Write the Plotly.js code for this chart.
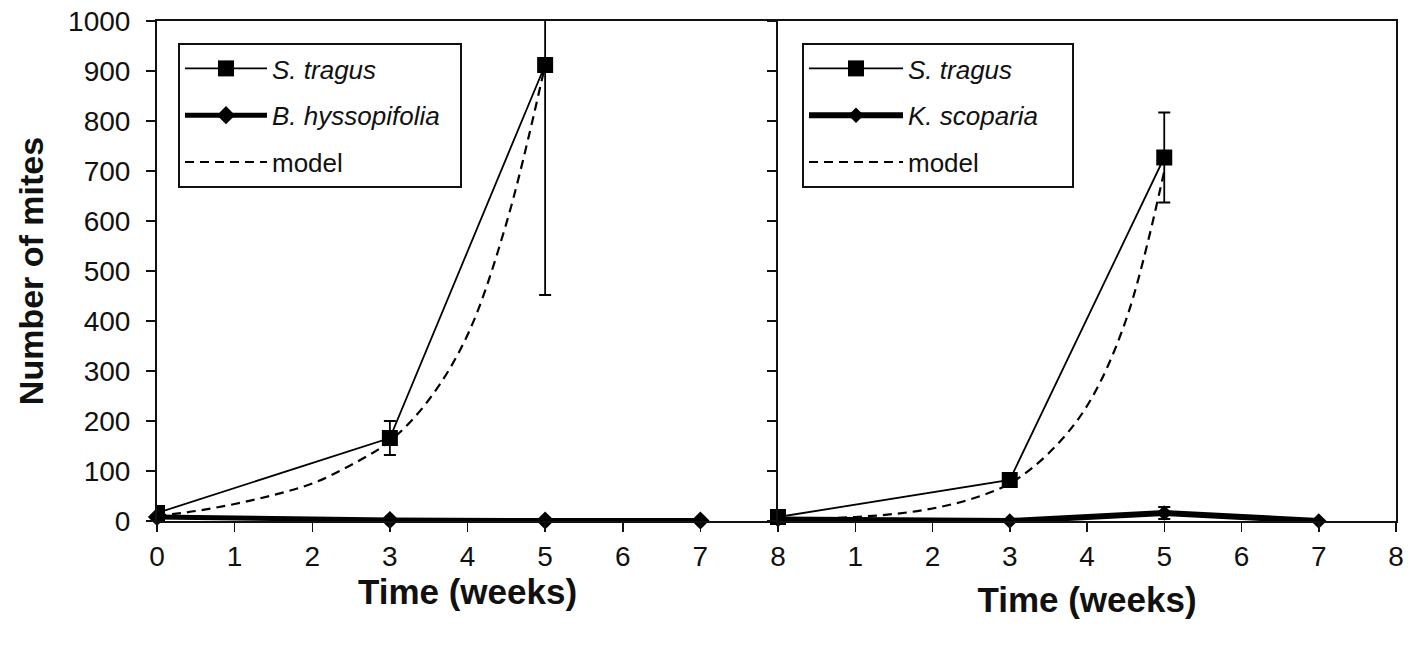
<!DOCTYPE html>
<html>
<head>
<meta charset="utf-8">
<script src="https://cdn.plot.ly/plotly-3.0.1.min.js"></script>
<style>html,body{margin:0;padding:0;background:#fff;}#chart{width:1420px;height:647px;}</style>
</head>
<body>
<div id="chart"></div>
<script>
// ---- Data ----
const weeksObs = [0, 3, 5];
const weeksAll = [0, 3, 5, 7];
const modelWeeks = [0, 0.5, 1, 1.5, 2, 2.5, 3, 3.5, 4, 4.5, 5];

// Left panel
const leftTragus = [16, 166, 912];
const leftTragusErr = [5, 34, 460];
const leftHyssopifolia = [8, 2, 1, 1];
const leftModel = [10, 20, 34, 52, 75, 112, 160, 242, 372, 595, 912];

// Right panel
const rightTragus = [8, 82, 727];
const rightTragusErr = [3, 8, 90];
const rightScoparia = [3, 0, 16, 0];
const rightScopariaErr = [0, 0, 12, 0];
const rightModel = [3, 5, 8, 14, 25, 44, 75, 135, 230, 400, 700];

const xTicks = [0, 1, 2, 3, 4, 5, 6, 7, 8];
const xTickTextLeft = ['0', '1', '2', '3', '4', '5', '6', '7', '8'];
const xTickTextRight = ['', '1', '2', '3', '4', '5', '6', '7', '8'];

const FONT = 'Arial, "Liberation Sans", sans-serif';
const black = '#000';
const NB = '\u00a0';

const traces = [
  {
    x: weeksObs, y: leftTragus, name: '<i>S. tragus</i>', xaxis: 'x', yaxis: 'y',
    legend: 'legend', legendgroup: 'l1', mode: 'lines+markers',
    line: {color: black, width: 1.8},
    marker: {symbol: 'square', size: 16, color: black},
    error_y: {type: 'data', array: leftTragusErr, visible: true, color: black, thickness: 1.8, width: 6},
    cliponaxis: true
  },
  {
    x: weeksAll, y: leftHyssopifolia, name: '<i>B. hyssopifolia</i>' + NB + NB, xaxis: 'x', yaxis: 'y',
    legend: 'legend', legendgroup: 'l2', mode: 'lines+markers',
    line: {color: black, width: 5},
    marker: {symbol: 'diamond', size: 14, color: black},
    cliponaxis: false
  },
  {
    x: modelWeeks, y: leftModel, name: 'model', xaxis: 'x', yaxis: 'y',
    legend: 'legend', legendgroup: 'l3', mode: 'lines',
    line: {color: black, width: 2.2, dash: '9px,6px', shape: 'spline'},
    cliponaxis: false
  },
  {
    x: weeksObs, y: rightTragus, name: '<i>S. tragus</i>', xaxis: 'x2', yaxis: 'y2',
    legend: 'legend2', legendgroup: 'r1', mode: 'lines+markers',
    line: {color: black, width: 1.8},
    marker: {symbol: 'square', size: 16, color: black},
    error_y: {type: 'data', array: rightTragusErr, visible: true, color: black, thickness: 1.8, width: 6},
    cliponaxis: false
  },
  {
    x: weeksAll, y: rightScoparia, name: '<i>K. scoparia</i>' + NB + NB + NB + NB, xaxis: 'x2', yaxis: 'y2',
    legend: 'legend2', legendgroup: 'r2', mode: 'lines+markers',
    line: {color: black, width: 6},
    marker: {symbol: 'diamond', size: 12, color: black},
    error_y: {type: 'data', array: rightScopariaErr, visible: true, color: black, thickness: 2, width: 6},
    cliponaxis: false
  },
  {
    x: modelWeeks, y: rightModel, name: 'model', xaxis: 'x2', yaxis: 'y2',
    legend: 'legend2', legendgroup: 'r3', mode: 'lines',
    line: {color: black, width: 2.2, dash: '9px,6px', shape: 'spline'},
    cliponaxis: false
  }
];

const split = 621 / 1239;

const axisCommon = {
  showline: true, linecolor: '#111', linewidth: 2,
  ticks: 'outside', ticklen: 9, tickwidth: 1.5, tickcolor: '#111',
  showgrid: false, zeroline: false,
  tickfont: {family: FONT, size: 28, color: '#111'}
};

const legendCommon = {
  bgcolor: '#fff', bordercolor: '#111', borderwidth: 2,
  font: {family: FONT, size: 26, color: '#111'},
  xanchor: 'left', yanchor: 'top', xref: 'paper', yref: 'paper',
  tracegroupgap: 10, traceorder: 'grouped'
};

const layout = {
  width: 1420, height: 647,
  margin: {l: 157, r: 24, t: 21, b: 126},
  paper_bgcolor: '#fff', plot_bgcolor: '#fff',
  font: {family: FONT, color: '#111'},
  xaxis: Object.assign({}, axisCommon, {
    domain: [0, split], range: [0, 8], anchor: 'y', mirror: true,
    tickmode: 'array', tickvals: xTicks, ticktext: xTickTextLeft,
    title: {text: '<b>Time (weeks)</b>', font: {family: FONT, size: 35, color: '#111'}, standoff: 9}
  }),
  yaxis: Object.assign({}, axisCommon, {
    domain: [0, 1], range: [0, 1000], anchor: 'x', dtick: 100, tick0: 0, mirror: false,
    ticklabelstandoff: 10,
    title: {text: '<b>Number of mites</b>', font: {family: FONT, size: 34, color: '#111'}, standoff: 14}
  }),
  xaxis2: Object.assign({}, axisCommon, {
    domain: [split, 1], range: [0, 8], anchor: 'y2', mirror: true,
    tickmode: 'array', tickvals: xTicks, ticktext: xTickTextRight,
    title: {text: '<b>Time (weeks)</b>', font: {family: FONT, size: 35, color: '#111'}, standoff: 17}
  }),
  yaxis2: Object.assign({}, axisCommon, {
    domain: [0, 1], range: [0, 1000], anchor: 'x2', dtick: 100, tick0: 0, mirror: true,
    showticklabels: false
  }),
  legend: Object.assign({}, legendCommon, {x: 21 / 1239, y: (521 - 43) / 500, itemwidth: 82}),
  legend2: Object.assign({}, legendCommon, {x: (802 - 157) / 1239, y: (521 - 43) / 500, itemwidth: 94}),
  showlegend: true
};

Plotly.newPlot('chart', traces, layout, {displayModeBar: false, staticPlot: true});
</script>
</body>
</html>
